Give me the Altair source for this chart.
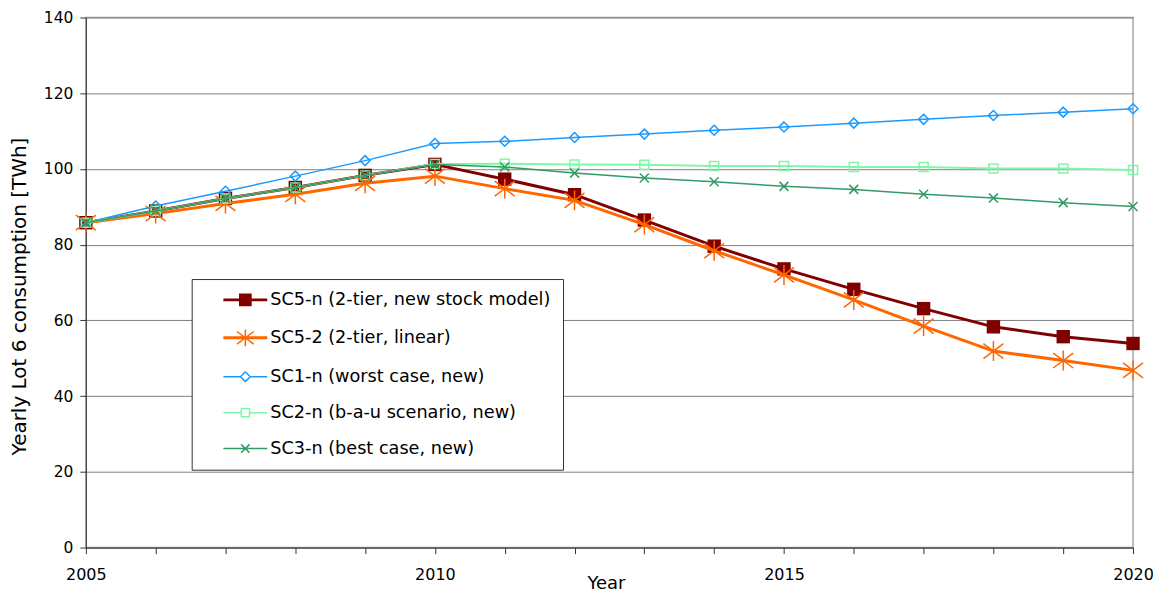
import altair as alt
import pandas as pd

years = list(range(2005, 2021))

sc5n = [85.8, 88.9, 92.2, 95.1, 98.3, 101.2, 97.3, 93.2, 86.5, 79.6, 73.6, 68.2, 63.1, 58.3, 55.7, 53.9]
sc52 = [85.8, 88.2, 90.9, 93.3, 96.2, 98.1, 94.8, 91.7, 85.3, 78.4, 72.0, 65.4, 58.5, 51.9, 49.4, 46.8]
sc1n = [85.8, 90.2, 94.1, 98.1, 102.2, 106.7, 107.3, 108.3, 109.2, 110.2, 111.1, 112.1, 113.1, 114.1, 115.0, 115.9]
sc2n = [85.8, 88.9, 92.2, 95.1, 98.3, 101.3, 101.4, 101.2, 101.1, 100.8, 100.8, 100.5, 100.5, 100.1, 100.1, 99.7]
sc3n = [85.8, 88.9, 92.2, 95.1, 98.3, 101.2, 100.5, 98.9, 97.6, 96.6, 95.4, 94.6, 93.3, 92.3, 91.1, 90.1]

series_names = [
    "SC5-n (2-tier, new stock model)",
    "SC5-2 (2-tier, linear)",
    "SC1-n (worst case, new)",
    "SC2-n (b-a-u scenario, new)",
    "SC3-n (best case, new)",
]
series_values = [sc5n, sc52, sc1n, sc2n, sc3n]
colors = ["#800000", "#FF6600", "#1A9AFF", "#80F7A6", "#339966"]

rows = []
for name, vals in zip(series_names, series_values):
    for y, v in zip(years, vals):
        rows.append({"year": y, "value": v, "series": name})
df = pd.DataFrame(rows)

FONT = "DejaVu Sans"

markers = [
    dict(shape="M-1,-1H1V1H-1Z", size=180, filled=True, sw=1),
    dict(shape="M0,-1V1M-1,-0.75L1,0.75M-1,0.75L1,-0.75", size=400, filled=False, sw=1.5),
    dict(shape="M0,-1L1,0L0,1L-1,0Z", size=100, filled=False, sw=1.5),
    dict(shape="M-1,-1H1V1H-1Z", size=81, filled=False, sw=1.5),
    dict(shape="M-1,-1L1,1M-1,1L1,-1", size=81, filled=False, sw=1.5),
]
line_widths = [3, 3, 1.5, 2, 1.5]


# legend symbols: a short line with the marker in its middle (1 unit = 7px)
def f(v):
    return ("%.3f" % v).rstrip("0").rstrip(".")


C = 4.7          # marker centre, in symbol units
L0, L1 = C - 3.14, C + 3.14   # line ends


def seg(x0, y0, x1, y1):
    return "M%s,%sL%s,%s" % (f(x0), f(y0), f(x1), f(y1))


def rect(h):
    return "M%s,%sH%sV%sH%sZ" % (f(C - h), f(-h), f(C + h), f(h), f(C - h))


leg_paths = [
    seg(L0, -0.1, L1, -0.1) + seg(L0, 0.1, L1, 0.1)
    + "".join(rect(h) for h in (0.8, 0.6, 0.4, 0.2, 0.05))
    + "M45.9,0L45.9,0.001",
    seg(L0, -0.1, L1, -0.1) + seg(L0, 0.1, L1, 0.1)
    + seg(C, -1.2, C, 1.2) + seg(C - 1.2, -0.9, C + 1.2, 0.9) + seg(C - 1.2, 0.9, C + 1.2, -0.9),
    seg(L0, 0, C - 0.7, 0) + seg(C + 0.7, 0, L1, 0)
    + seg(C, -0.7, C + 0.7, 0) + seg(C + 0.7, 0, C, 0.7) + seg(C, 0.7, C - 0.7, 0) + seg(C - 0.7, 0, C, -0.7),
    seg(L0, 0, C - 0.6, 0) + seg(C + 0.6, 0, L1, 0)
    + seg(C - 0.6, -0.6, C + 0.6, -0.6) + seg(C + 0.6, -0.6, C + 0.6, 0.6)
    + seg(C + 0.6, 0.6, C - 0.6, 0.6) + seg(C - 0.6, 0.6, C - 0.6, -0.6),
    seg(L0, 0, L1, 0) + seg(C - 0.6, -0.6, C + 0.6, 0.6) + seg(C - 0.6, 0.6, C + 0.6, -0.6),
]

legend = alt.Legend(
    title=None,
    orient="none",
    legendX=106,
    legendY=262,
    direction="vertical",
    strokeColor="#333333",
    fillColor="white",
    padding=12,
    labelFont=FONT,
    labelFontSize=17.7,
    labelColor="black",
    labelLimit=500,
    labelOffset=49,
    symbolSize=196,
    symbolStrokeWidth=1.5,
    symbolFillColor="transparent",
    rowPadding=17,
    symbolOpacity=1,
)

scale = alt.Scale(domain=series_names, range=colors)
color_enc = alt.Color("series:N", scale=scale, legend=legend, sort=series_names)
shape_enc = alt.Shape(
    "series:N", scale=alt.Scale(domain=series_names, range=leg_paths), legend=legend, sort=series_names
)

x_enc = alt.X(
    "year:Q",
    scale=alt.Scale(domain=[2005, 2020], nice=False, zero=False),
    axis=alt.Axis(
        title="Year",
        values=years,
        format="d",
        labelExpr="datum.value % 5 == 0 ? datum.label : ''",
        grid=False,
        tickSize=6,
        tickColor="#333333",
        domainColor="#333333",
        labelFont=FONT,
        labelFontSize=16,
        labelColor="black",
        labelPadding=13,
        labelFlush=False,
        titleFont=FONT,
        titleFontSize=18,
        titleFontWeight="normal",
        titleColor="black",
        titleX=521,
        titleY=36,
        titleBaseline="middle",
        titleAlign="center",
    ),
)
y_enc = alt.Y(
    "value:Q",
    scale=alt.Scale(domain=[0, 140], nice=False),
    axis=alt.Axis(
        title="Yearly Lot 6 consumption [TWh]",
        values=list(range(0, 141, 20)),
        grid=True,
        gridColor="#808080",
        gridWidth=1,
        tickSize=6,
        tickColor="#333333",
        domainColor="#333333",
        labelFont=FONT,
        labelFontSize=15.5,
        labelColor="black",
        labelPadding=7,
        titleFont=FONT,
        titleFontSize=20,
        titleFontWeight="normal",
        titleColor="black",
        titleAngle=270,
        titleX=-66,
        titleY=279,
        titleBaseline="middle",
        titleAlign="center",
    ),
)

# legend-only layer first (draws no marks: its data is filtered away)
legend_layer = (
    alt.Chart(df)
    .transform_filter("datum.year < 0")
    .mark_point(filled=False)
    .encode(x=x_enc, y=y_enc, color=color_enc, shape=shape_enc)
)
layers = [legend_layer]
for i, name in enumerate(series_names):
    sub = alt.Chart(df).transform_filter(alt.datum.series == name)
    ln = sub.mark_line(strokeWidth=line_widths[i]).encode(x=x_enc, y=y_enc, color=color_enc)
    m = markers[i]
    pt = sub.mark_point(
        shape=m["shape"], size=m["size"], filled=m["filled"], strokeWidth=m["sw"], opacity=1
    ).encode(x=x_enc, y=y_enc, color=color_enc)
    layers += [ln, pt]

chart = (
    alt.layer(*layers)
    .properties(
        width=1049,
        height=531,
        autosize=alt.AutoSizeParams(type="none"),
        padding={"left": 78, "top": 9, "right": 20, "bottom": 44},
        background="white",
    )
    .configure_view(stroke="#A8A8A8", strokeWidth=1.5)
)

chart.save("out.html", embed_options={"renderer": "svg", "actions": False})
